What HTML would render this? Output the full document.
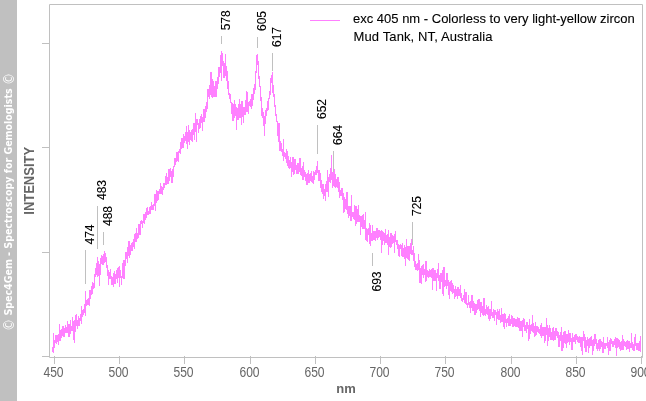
<!DOCTYPE html>
<html><head><meta charset="utf-8"><style>
html,body{margin:0;padding:0;background:#fff;}
body{width:646px;height:401px;overflow:hidden;}
svg{display:block;}
.tl{font:13px "Liberation Sans",Arial,sans-serif;fill:#666666;}
.pl{font:12px "Liberation Sans",Arial,sans-serif;fill:#000;stroke:#000;stroke-width:0.1px;}
.lg{font:13px "Liberation Sans",Arial,sans-serif;fill:#000;stroke:#000;stroke-width:0.1px;}
.at{font:bold 13px "Liberation Sans",Arial,sans-serif;fill:#666666;}
.cp{font-size:14px;font-weight:normal;baseline-shift:-1.5px;}
.sb{font:bold 11px "DejaVu Sans Condensed","DejaVu Sans",sans-serif;font-stretch:condensed;fill:#fff;}
</style></head><body>
<svg width="646" height="401" viewBox="0 0 646 401">
<path d="M49.5 4.5H642.5V357.5H49.5Z" fill="none" stroke="#c0c0c0" stroke-width="1"/>
<path d="M42 43.5H49" stroke="#c0c0c0"/>
<path d="M42 147.5H49" stroke="#c0c0c0"/>
<path d="M42 252.5H49" stroke="#c0c0c0"/>
<path d="M42 356.5H49" stroke="#c0c0c0"/>
<path d="M54.5 356V364" stroke="#c0c0c0"/>
<text transform="translate(53.5 377) scale(0.93 1.06)" text-anchor="middle" class="tl">450</text>
<path d="M119.5 356V364" stroke="#c0c0c0"/>
<text transform="translate(118.5 377) scale(0.93 1.06)" text-anchor="middle" class="tl">500</text>
<path d="M184.5 356V364" stroke="#c0c0c0"/>
<text transform="translate(183.5 377) scale(0.93 1.06)" text-anchor="middle" class="tl">550</text>
<path d="M250.5 356V364" stroke="#c0c0c0"/>
<text transform="translate(249.5 377) scale(0.93 1.06)" text-anchor="middle" class="tl">600</text>
<path d="M315.5 356V364" stroke="#c0c0c0"/>
<text transform="translate(314.5 377) scale(0.93 1.06)" text-anchor="middle" class="tl">650</text>
<path d="M380.5 356V364" stroke="#c0c0c0"/>
<text transform="translate(379.5 377) scale(0.93 1.06)" text-anchor="middle" class="tl">700</text>
<path d="M445.5 356V364" stroke="#c0c0c0"/>
<text transform="translate(444.5 377) scale(0.93 1.06)" text-anchor="middle" class="tl">750</text>
<path d="M511.5 356V364" stroke="#c0c0c0"/>
<text transform="translate(510.5 377) scale(0.93 1.06)" text-anchor="middle" class="tl">800</text>
<path d="M576.5 356V364" stroke="#c0c0c0"/>
<text transform="translate(575.5 377) scale(0.93 1.06)" text-anchor="middle" class="tl">850</text>
<path d="M641.5 356V364" stroke="#c0c0c0"/>
<text transform="translate(640.5 377) scale(0.93 1.06)" text-anchor="middle" class="tl">900</text>
<path d="M52 347h1V352h-1zM53 333h1V353h-1zM54 340h1V348h-1zM55 335h1V343h-1zM56 335h1V344h-1zM57 335h1V342h-1zM58 334h1V345h-1zM59 324h1V341h-1zM60 330h1V341h-1zM61 329h1V338h-1zM62 326h1V336h-1zM63 326h1V337h-1zM64 328h1V337h-1zM65 325h1V333h-1zM66 327h1V333h-1zM67 321h1V333h-1zM68 324h1V337h-1zM69 324h1V337h-1zM70 320h1V334h-1zM71 326h1V331h-1zM72 317h1V331h-1zM73 321h1V340h-1zM74 320h1V343h-1zM75 315h1V332h-1zM76 314h1V326h-1zM77 320h1V329h-1zM78 316h1V326h-1zM79 318h1V326h-1zM80 314h1V321h-1zM81 306h1V324h-1zM82 310h1V317h-1zM83 309h1V315h-1zM84 304h1V313h-1zM85 291h1V316h-1zM86 300h1V306h-1zM87 299h1V305h-1zM88 298h1V305h-1zM89 290h1V306h-1zM90 290h1V299h-1zM91 286h1V295h-1zM92 282h1V294h-1zM93 283h1V289h-1zM94 274h1V288h-1zM95 268h1V277h-1zM96 263h1V275h-1zM97 257h1V277h-1zM98 261h1V276h-1zM99 264h1V286h-1zM100 258h1V275h-1zM101 255h1V264h-1zM102 256h1V265h-1zM103 254h1V265h-1zM104 251h1V263h-1zM105 253h1V262h-1zM106 257h1V268h-1zM107 265h1V276h-1zM108 270h1V285h-1zM109 272h1V279h-1zM110 269h1V279h-1zM111 276h1V285h-1zM112 277h1V285h-1zM113 273h1V287h-1zM114 271h1V284h-1zM115 274h1V284h-1zM116 270h1V279h-1zM117 268h1V283h-1zM118 267h1V278h-1zM119 266h1V287h-1zM120 270h1V278h-1zM121 276h1V285h-1zM122 263h1V278h-1zM123 260h1V279h-1zM124 260h1V279h-1zM125 252h1V266h-1zM126 252h1V259h-1zM127 247h1V263h-1zM128 241h1V256h-1zM129 241h1V258h-1zM130 245h1V255h-1zM131 243h1V251h-1zM132 242h1V251h-1zM133 239h1V247h-1zM134 234h1V249h-1zM135 233h1V242h-1zM136 228h1V242h-1zM137 233h1V239h-1zM138 224h1V238h-1zM139 224h1V235h-1zM140 221h1V235h-1zM141 220h1V224h-1zM142 221h1V228h-1zM143 214h1V223h-1zM144 214h1V224h-1zM145 212h1V220h-1zM146 208h1V218h-1zM147 207h1V215h-1zM148 211h1V215h-1zM149 207h1V214h-1zM150 206h1V214h-1zM151 202h1V210h-1zM152 205h1V210h-1zM153 204h1V210h-1zM154 194h1V206h-1zM155 194h1V211h-1zM156 190h1V203h-1zM157 191h1V201h-1zM158 191h1V200h-1zM159 189h1V194h-1zM160 183h1V194h-1zM161 186h1V194h-1zM162 187h1V195h-1zM163 183h1V190h-1zM164 183h1V188h-1zM165 176h1V185h-1zM166 173h1V185h-1zM167 177h1V184h-1zM168 169h1V184h-1zM169 169h1V181h-1zM170 168h1V177h-1zM171 171h1V183h-1zM172 169h1V183h-1zM173 166h1V177h-1zM174 158h1V167h-1zM175 158h1V165h-1zM176 152h1V162h-1zM177 152h1V161h-1zM178 151h1V162h-1zM179 149h1V153h-1zM180 142h1V154h-1zM181 138h1V149h-1zM182 138h1V148h-1zM183 134h1V148h-1zM184 136h1V143h-1zM185 132h1V141h-1zM186 126h1V144h-1zM187 132h1V149h-1zM188 125h1V142h-1zM189 130h1V145h-1zM190 132h1V140h-1zM191 130h1V141h-1zM192 129h1V142h-1zM193 123h1V135h-1zM194 123h1V140h-1zM195 113h1V132h-1zM196 119h1V142h-1zM197 119h1V125h-1zM198 123h1V133h-1zM199 119h1V129h-1zM200 116h1V128h-1zM201 114h1V123h-1zM202 117h1V131h-1zM203 109h1V122h-1zM204 109h1V122h-1zM205 106h1V118h-1zM206 102h1V112h-1zM207 89h1V109h-1zM208 89h1V97h-1zM209 85h1V99h-1zM210 72h1V95h-1zM211 72h1V97h-1zM212 79h1V98h-1zM213 81h1V97h-1zM214 86h1V97h-1zM215 81h1V97h-1zM216 81h1V97h-1zM217 77h1V89h-1zM218 67h1V84h-1zM219 67h1V77h-1zM220 55h1V73h-1zM221 51h1V81h-1zM222 53h1V66h-1zM223 61h1V78h-1zM224 63h1V78h-1zM225 54h1V76h-1zM226 66h1V81h-1zM227 71h1V89h-1zM228 81h1V95h-1zM229 93h1V99h-1zM230 94h1V103h-1zM231 102h1V114h-1zM232 103h1V121h-1zM233 104h1V121h-1zM234 100h1V118h-1zM235 104h1V116h-1zM236 107h1V130h-1zM237 108h1V120h-1zM238 104h1V120h-1zM239 99h1V118h-1zM240 104h1V118h-1zM241 101h1V125h-1zM242 101h1V117h-1zM243 107h1V123h-1zM244 107h1V115h-1zM245 100h1V115h-1zM246 91h1V112h-1zM247 92h1V112h-1zM248 102h1V114h-1zM249 101h1V106h-1zM250 99h1V107h-1zM251 94h1V109h-1zM252 94h1V106h-1zM253 88h1V100h-1zM254 84h1V94h-1zM255 71h1V90h-1zM256 55h1V73h-1zM257 54h1V65h-1zM258 61h1V79h-1zM259 76h1V87h-1zM260 86h1V101h-1zM261 97h1V116h-1zM262 108h1V118h-1zM263 112h1V126h-1zM264 116h1V136h-1zM265 110h1V124h-1zM266 108h1V116h-1zM267 101h1V111h-1zM268 98h1V110h-1zM269 91h1V99h-1zM270 78h1V95h-1zM271 75h1V83h-1zM272 72h1V93h-1zM273 85h1V97h-1zM274 94h1V107h-1zM275 105h1V116h-1zM276 114h1V122h-1zM277 121h1V136h-1zM278 123h1V142h-1zM279 123h1V151h-1zM280 141h1V151h-1zM281 143h1V152h-1zM282 149h1V156h-1zM283 139h1V161h-1zM284 152h1V157h-1zM285 153h1V159h-1zM286 149h1V163h-1zM287 151h1V166h-1zM288 156h1V168h-1zM289 160h1V169h-1zM290 157h1V168h-1zM291 162h1V177h-1zM292 157h1V172h-1zM293 157h1V175h-1zM294 159h1V174h-1zM295 159h1V170h-1zM296 165h1V174h-1zM297 163h1V174h-1zM298 163h1V174h-1zM299 158h1V172h-1zM300 158h1V175h-1zM301 168h1V176h-1zM302 166h1V180h-1zM303 162h1V180h-1zM304 170h1V177h-1zM305 172h1V181h-1zM306 174h1V185h-1zM307 173h1V185h-1zM308 170h1V183h-1zM309 174h1V183h-1zM310 173h1V181h-1zM311 171h1V182h-1zM312 176h1V183h-1zM313 171h1V184h-1zM314 172h1V180h-1zM315 170h1V175h-1zM316 166h1V175h-1zM317 161h1V173h-1zM318 170h1V181h-1zM319 170h1V181h-1zM320 173h1V188h-1zM321 180h1V192h-1zM322 184h1V194h-1zM323 184h1V199h-1zM324 189h1V196h-1zM325 184h1V201h-1zM326 181h1V192h-1zM327 170h1V192h-1zM328 177h1V197h-1zM329 174h1V182h-1zM330 168h1V183h-1zM331 155h1V180h-1zM332 172h1V188h-1zM333 172h1V186h-1zM334 169h1V187h-1zM335 174h1V188h-1zM336 179h1V187h-1zM337 177h1V188h-1zM338 177h1V192h-1zM339 182h1V198h-1zM340 190h1V196h-1zM341 188h1V196h-1zM342 188h1V200h-1zM343 193h1V213h-1zM344 197h1V212h-1zM345 199h1V209h-1zM346 192h1V210h-1zM347 192h1V214h-1zM348 206h1V218h-1zM349 206h1V216h-1zM350 206h1V221h-1zM351 195h1V221h-1zM352 212h1V217h-1zM353 212h1V219h-1zM354 205h1V220h-1zM355 206h1V226h-1zM356 206h1V224h-1zM357 209h1V222h-1zM358 205h1V222h-1zM359 215h1V222h-1zM360 216h1V235h-1zM361 216h1V227h-1zM362 215h1V229h-1zM363 214h1V229h-1zM364 220h1V229h-1zM365 212h1V240h-1zM366 228h1V241h-1zM367 229h1V242h-1zM368 228h1V235h-1zM369 223h1V244h-1zM370 225h1V246h-1zM371 233h1V241h-1zM372 225h1V241h-1zM373 231h1V240h-1zM374 231h1V240h-1zM375 231h1V241h-1zM376 228h1V238h-1zM377 228h1V240h-1zM378 230h1V238h-1zM379 230h1V237h-1zM380 231h1V240h-1zM381 230h1V253h-1zM382 231h1V245h-1zM383 232h1V241h-1zM384 233h1V245h-1zM385 229h1V243h-1zM386 235h1V243h-1zM387 234h1V245h-1zM388 230h1V255h-1zM389 237h1V247h-1zM390 233h1V248h-1zM391 233h1V247h-1zM392 235h1V244h-1zM393 236h1V243h-1zM394 234h1V253h-1zM395 231h1V242h-1zM396 240h1V245h-1zM397 240h1V249h-1zM398 244h1V256h-1zM399 245h1V257h-1zM400 244h1V249h-1zM401 245h1V256h-1zM402 243h1V257h-1zM403 248h1V257h-1zM404 245h1V259h-1zM405 247h1V266h-1zM406 239h1V258h-1zM407 246h1V259h-1zM408 246h1V260h-1zM409 246h1V261h-1zM410 243h1V254h-1zM411 239h1V255h-1zM412 250h1V255h-1zM413 246h1V261h-1zM414 253h1V267h-1zM415 261h1V270h-1zM416 264h1V270h-1zM417 263h1V271h-1zM418 254h1V270h-1zM419 260h1V283h-1zM420 268h1V283h-1zM421 266h1V284h-1zM422 265h1V275h-1zM423 264h1V278h-1zM424 269h1V275h-1zM425 261h1V282h-1zM426 261h1V281h-1zM427 270h1V277h-1zM428 271h1V278h-1zM429 269h1V277h-1zM430 270h1V277h-1zM431 269h1V278h-1zM432 268h1V290h-1zM433 268h1V281h-1zM434 270h1V281h-1zM435 270h1V281h-1zM436 273h1V291h-1zM437 269h1V278h-1zM438 263h1V281h-1zM439 275h1V289h-1zM440 273h1V289h-1zM441 273h1V282h-1zM442 270h1V294h-1zM443 267h1V296h-1zM444 267h1V287h-1zM445 280h1V286h-1zM446 273h1V289h-1zM447 273h1V286h-1zM448 280h1V295h-1zM449 282h1V299h-1zM450 281h1V291h-1zM451 280h1V292h-1zM452 283h1V294h-1zM453 285h1V293h-1zM454 289h1V299h-1zM455 286h1V297h-1zM456 289h1V296h-1zM457 287h1V299h-1zM458 287h1V296h-1zM459 289h1V296h-1zM460 285h1V298h-1zM461 293h1V301h-1zM462 298h1V302h-1zM463 295h1V300h-1zM464 289h1V303h-1zM465 292h1V304h-1zM466 292h1V305h-1zM467 303h1V308h-1zM468 295h1V305h-1zM469 302h1V308h-1zM470 301h1V313h-1zM471 295h1V308h-1zM472 295h1V311h-1zM473 301h1V311h-1zM474 303h1V315h-1zM475 304h1V315h-1zM476 304h1V313h-1zM477 300h1V310h-1zM478 299h1V309h-1zM479 299h1V311h-1zM480 302h1V317h-1zM481 302h1V313h-1zM482 306h1V315h-1zM483 298h1V316h-1zM484 298h1V315h-1zM485 309h1V316h-1zM486 305h1V314h-1zM487 307h1V315h-1zM488 306h1V319h-1zM489 309h1V321h-1zM490 309h1V319h-1zM491 301h1V316h-1zM492 312h1V318h-1zM493 309h1V318h-1zM494 310h1V321h-1zM495 310h1V315h-1zM496 312h1V325h-1zM497 309h1V319h-1zM498 311h1V320h-1zM499 309h1V320h-1zM500 315h1V323h-1zM501 308h1V322h-1zM502 314h1V322h-1zM503 314h1V327h-1zM504 313h1V329h-1zM505 314h1V323h-1zM506 319h1V327h-1zM507 318h1V323h-1zM508 316h1V326h-1zM509 314h1V326h-1zM510 319h1V326h-1zM511 315h1V324h-1zM512 316h1V327h-1zM513 318h1V327h-1zM514 318h1V326h-1zM515 319h1V327h-1zM516 319h1V327h-1zM517 317h1V327h-1zM518 318h1V328h-1zM519 318h1V331h-1zM520 321h1V331h-1zM521 321h1V331h-1zM522 320h1V337h-1zM523 318h1V327h-1zM524 319h1V331h-1zM525 325h1V331h-1zM526 322h1V333h-1zM527 322h1V329h-1zM528 325h1V341h-1zM529 319h1V339h-1zM530 325h1V334h-1zM531 324h1V331h-1zM532 315h1V332h-1zM533 323h1V333h-1zM534 326h1V337h-1zM535 322h1V336h-1zM536 326h1V335h-1zM537 326h1V332h-1zM538 327h1V333h-1zM539 329h1V334h-1zM540 325h1V336h-1zM541 323h1V338h-1zM542 327h1V336h-1zM543 327h1V336h-1zM544 327h1V343h-1zM545 327h1V341h-1zM546 318h1V335h-1zM547 325h1V346h-1zM548 328h1V341h-1zM549 325h1V337h-1zM550 328h1V340h-1zM551 332h1V340h-1zM552 328h1V340h-1zM553 327h1V341h-1zM554 331h1V340h-1zM555 328h1V340h-1zM556 328h1V336h-1zM557 331h1V338h-1zM558 332h1V347h-1zM559 335h1V347h-1zM560 332h1V341h-1zM561 327h1V351h-1zM562 335h1V351h-1zM563 332h1V348h-1zM564 331h1V343h-1zM565 331h1V344h-1zM566 334h1V348h-1zM567 334h1V343h-1zM568 330h1V342h-1zM569 333h1V345h-1zM570 333h1V342h-1zM571 338h1V350h-1zM572 333h1V350h-1zM573 337h1V342h-1zM574 335h1V342h-1zM575 334h1V344h-1zM576 334h1V340h-1zM577 336h1V342h-1zM578 337h1V343h-1zM579 336h1V343h-1zM580 337h1V347h-1zM581 337h1V351h-1zM582 337h1V355h-1zM583 331h1V341h-1zM584 334h1V348h-1zM585 337h1V352h-1zM586 340h1V352h-1zM587 337h1V346h-1zM588 339h1V353h-1zM589 338h1V348h-1zM590 337h1V346h-1zM591 336h1V346h-1zM592 340h1V355h-1zM593 339h1V351h-1zM594 334h1V346h-1zM595 334h1V344h-1zM596 339h1V349h-1zM597 343h1V351h-1zM598 340h1V349h-1zM599 339h1V351h-1zM600 339h1V349h-1zM601 341h1V347h-1zM602 342h1V353h-1zM603 337h1V353h-1zM604 343h1V349h-1zM605 343h1V349h-1zM606 343h1V346h-1zM607 337h1V348h-1zM608 342h1V355h-1zM609 340h1V351h-1zM610 338h1V351h-1zM611 339h1V344h-1zM612 341h1V347h-1zM613 341h1V347h-1zM614 339h1V345h-1zM615 337h1V348h-1zM616 338h1V356h-1zM617 338h1V348h-1zM618 339h1V347h-1zM619 340h1V349h-1zM620 342h1V351h-1zM621 341h1V350h-1zM622 335h1V350h-1zM623 339h1V350h-1zM624 341h1V346h-1zM625 342h1V347h-1zM626 341h1V350h-1zM627 340h1V349h-1zM628 341h1V349h-1zM629 341h1V352h-1zM630 343h1V348h-1zM631 333h1V348h-1zM632 342h1V350h-1zM633 344h1V351h-1zM634 337h1V351h-1zM635 334h1V346h-1zM636 343h1V350h-1zM637 343h1V350h-1zM638 343h1V351h-1zM639 341h1V351h-1zM640 336h1V352h-1z" fill="#ff80ff" shape-rendering="crispEdges"/>
<path d="M85.5 250V284" stroke="#c0c0c0"/>
<text transform="translate(94.4 244.5) rotate(-90)" class="pl">474</text>
<path d="M97.5 206V249" stroke="#c0c0c0"/>
<text transform="translate(106.4 200) rotate(-90)" class="pl">483</text>
<path d="M103.5 232V245" stroke="#c0c0c0"/>
<text transform="translate(112.4 226) rotate(-90)" class="pl">488</text>
<path d="M221.5 36V44" stroke="#c0c0c0"/>
<text transform="translate(230.4 30.3) rotate(-90)" class="pl">578</text>
<path d="M257.5 37V48" stroke="#c0c0c0"/>
<text transform="translate(266.4 31) rotate(-90)" class="pl">605</text>
<path d="M272.5 53V71" stroke="#c0c0c0"/>
<text transform="translate(281.4 47) rotate(-90)" class="pl">617</text>
<path d="M317.5 125V154" stroke="#c0c0c0"/>
<text transform="translate(326.4 119) rotate(-90)" class="pl">652</text>
<path d="M333.5 151V172" stroke="#c0c0c0"/>
<text transform="translate(342.4 145) rotate(-90)" class="pl">664</text>
<path d="M412.5 222V245" stroke="#c0c0c0"/>
<text transform="translate(421.4 216) rotate(-90)" class="pl">725</text>
<path d="M372.5 253V266" stroke="#c0c0c0"/>
<text transform="translate(381.4 291.5) rotate(-90)" class="pl">693</text>
<path d="M310 20.5H340" stroke="#ff80ff"/>
<text x="353" y="23" class="lg">exc 405 nm - Colorless to very light-yellow zircon</text>
<text x="353.5" y="41" class="lg" textLength="139" lengthAdjust="spacing">Mud Tank, NT, Australia</text>
<text x="346" y="393" text-anchor="middle" class="at">nm</text>
<text transform="translate(34.2 180.8) rotate(-90) scale(1 1.07)" text-anchor="middle" class="at">INTENSITY</text>
<rect x="0" y="0" width="17" height="401" fill="#c0c0c0"/>
<text transform="translate(11.8 202) rotate(-90)" text-anchor="middle" class="sb" textLength="258" lengthAdjust="spacingAndGlyphs"><tspan class="cp">©</tspan> Spec4Gem - Spectroscopy for Gemologists <tspan class="cp">©</tspan></text>
</svg>
</body></html>
